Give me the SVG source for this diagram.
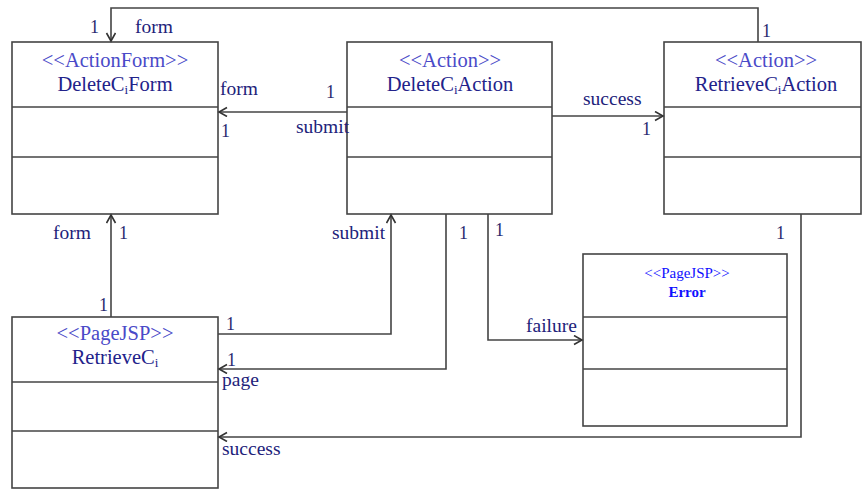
<svg xmlns="http://www.w3.org/2000/svg" width="862" height="491" viewBox="0 0 862 491">
<style>
.box{fill:#fff;stroke:#444;stroke-width:1.6}
.div{stroke:#444;stroke-width:1.6}
.st{font-family:"Liberation Serif",serif;font-size:20.5px;fill:#4a4ac8;text-anchor:middle}
.nm{font-family:"Liberation Serif",serif;font-size:20.5px;fill:#22228a;text-anchor:middle}
.sub{font-size:13px}
.lb{font-family:"Liberation Serif",serif;font-size:19.5px;fill:#22227a}
.one{font-family:"Liberation Serif",serif;font-size:18px;fill:#2a2a70}
.sm{font-family:"Liberation Serif",serif;font-size:15px;fill:#1010ff;text-anchor:middle}
.cn{fill:none;stroke:#444;stroke-width:1.6}
</style>
<defs>
<marker id="arr" markerUnits="userSpaceOnUse" markerWidth="12" markerHeight="12" refX="9" refY="5" orient="auto">
<path d="M1,0.5 L9,5 L1,9.5" fill="none" stroke="#333" stroke-width="1.6"/>
</marker>
</defs>

<g id="DeleteCiForm">
<rect class="box" x="12" y="42" width="206" height="172"/>
<line class="div" x1="12" y1="107" x2="218" y2="107"/>
<line class="div" x1="12" y1="157" x2="218" y2="157"/>
<text class="st" x="115" y="67">&lt;&lt;ActionForm&gt;&gt;</text>
<text class="nm" x="115" y="91">DeleteC<tspan class="sub" dy="3">i</tspan><tspan dy="-3">Form</tspan></text>
</g>

<g id="DeleteCiAction">
<rect class="box" x="347" y="42" width="205" height="172"/>
<line class="div" x1="347" y1="107" x2="552" y2="107"/>
<line class="div" x1="347" y1="157" x2="552" y2="157"/>
<text class="st" x="450" y="67">&lt;&lt;Action&gt;&gt;</text>
<text class="nm" x="450" y="91">DeleteC<tspan class="sub" dy="3">i</tspan><tspan dy="-3">Action</tspan></text>
</g>

<g id="RetrieveCiAction">
<rect class="box" x="664" y="42" width="197" height="172"/>
<line class="div" x1="664" y1="107" x2="861" y2="107"/>
<line class="div" x1="664" y1="157" x2="861" y2="157"/>
<text class="st" x="766" y="67">&lt;&lt;Action&gt;&gt;</text>
<text class="nm" x="766" y="91">RetrieveC<tspan class="sub" dy="3">i</tspan><tspan dy="-3">Action</tspan></text>
</g>

<g id="RetrieveCi">
<rect class="box" x="12" y="317" width="206" height="171"/>
<line class="div" x1="12" y1="382" x2="218" y2="382"/>
<line class="div" x1="12" y1="431" x2="218" y2="431"/>
<text class="st" x="115" y="340">&lt;&lt;PageJSP&gt;&gt;</text>
<text class="nm" x="115" y="364">RetrieveC<tspan class="sub" dy="3">i</tspan></text>
</g>

<g id="Error">
<rect class="box" x="583" y="254" width="204" height="172"/>
<line class="div" x1="583" y1="317" x2="787" y2="317"/>
<line class="div" x1="583" y1="369" x2="787" y2="369"/>
<text class="sm" x="687" y="278">&lt;&lt;PageJSP&gt;&gt;</text>
<text class="sm" x="687" y="297" font-weight="bold">Error</text>
</g>

<g id="connectors">
<polyline class="cn" points="758,42 758,8 111,8 111,41" marker-end="url(#arr)"/>
<polyline class="cn" points="347,112 219,112" marker-end="url(#arr)"/>
<polyline class="cn" points="552,116 663,116" marker-end="url(#arr)"/>
<polyline class="cn" points="111,317 111,215" marker-end="url(#arr)"/>
<polyline class="cn" points="218,334 391,334 391,215" marker-end="url(#arr)"/>
<polyline class="cn" points="446,214 446,369 219,369" marker-end="url(#arr)"/>
<polyline class="cn" points="488,214 488,340 582,340" marker-end="url(#arr)"/>
<polyline class="cn" points="801,214 801,437 219,437" marker-end="url(#arr)"/>

<text class="one" x="90" y="33">1</text>
<text class="lb" x="135" y="33">form</text>
<text class="one" x="762" y="37">1</text>

<text class="lb" x="220" y="95">form</text>
<text class="one" x="221" y="137">1</text>
<text class="one" x="326" y="98" font-size="12">1</text>
<text class="lb" x="296" y="133" font-size="17">submit</text>

<text class="lb" x="583" y="105">success</text>
<text class="one" x="642" y="135">1</text>

<text class="lb" x="53" y="239">form</text>
<text class="one" x="119" y="239">1</text>
<text class="one" x="99" y="311">1</text>

<text class="one" x="226" y="330">1</text>
<text class="lb" x="332" y="239">submit</text>

<text class="one" x="459" y="239">1</text>
<text class="one" x="227" y="366">1</text>
<text class="lb" x="222" y="386">page</text>

<text class="one" x="495" y="236">1</text>
<text class="lb" x="526" y="332">failure</text>

<text class="one" x="776" y="239">1</text>
<text class="lb" x="222" y="455">success</text>
</g>
</svg>
